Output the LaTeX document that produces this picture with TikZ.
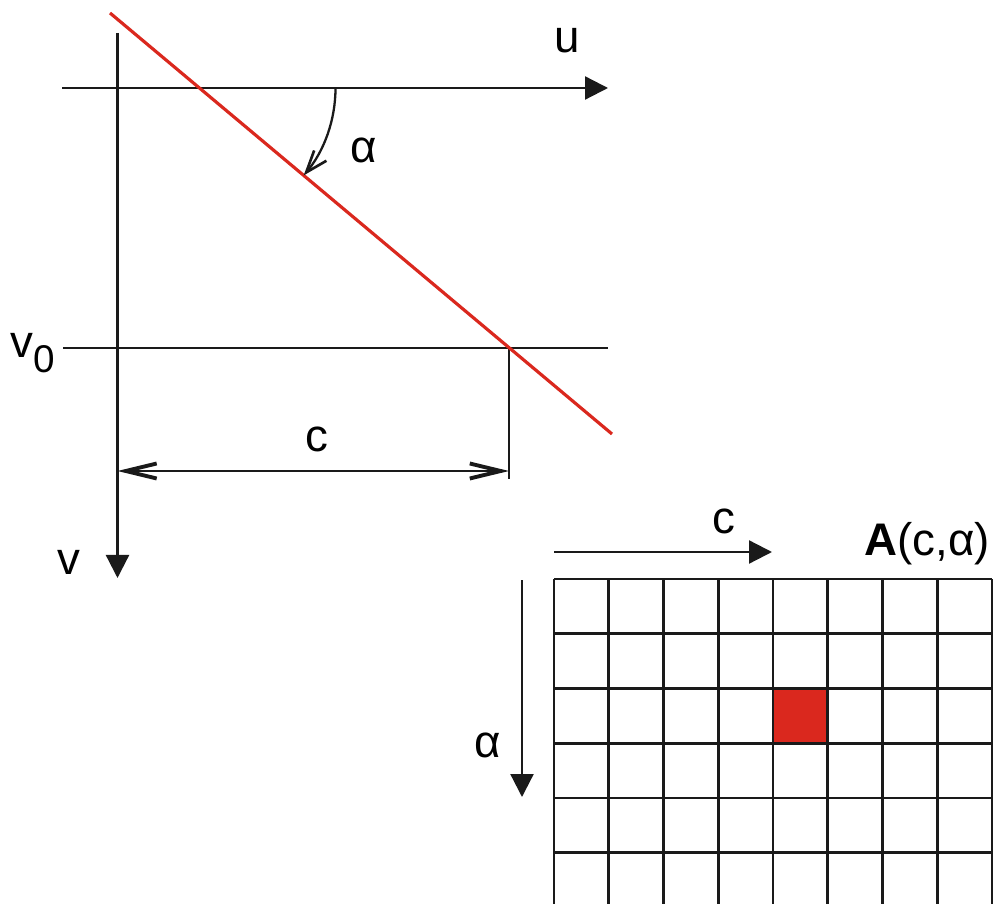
\documentclass[tikz,border=0pt]{standalone}
\usepackage{fontspec}
\setmainfont{Liberation Sans}
\usetikzlibrary{arrows.meta}
\definecolor{rouge}{RGB}{218,40,30}
\definecolor{noir}{RGB}{26,26,26}

\begin{document}
\begin{tikzpicture}[
    axe/.style={
        -{Triangle[length=0.46cm,width=0.46cm]},
        line width=1.3pt,
        draw=noir
    },
    trait/.style={
        line width=1.3pt,
        draw=noir
    },
    droite/.style={
        line width=1.8pt,
        draw=rouge
    },
    cote/.style={
        {Straight Barb[length=0.62cm,width=0.3cm,line width=2.2pt]}-{Straight Barb[length=0.62cm,width=0.3cm,line width=2.2pt]},
        line width=1.3pt,
        draw=noir
    },
    fleche/.style={
        -{Straight Barb[length=0.44cm,width=0.32cm,line width=1.5pt]},
        line width=1.3pt,
        draw=noir
    },
    grille/.style={
        line width=1.45pt,
        draw=noir
    },
    etiquette/.style={
        font=\fontsize{26}{30}\selectfont,
        inner sep=0pt,
        anchor=base
    }
]

% Frame
\clip (0,0) rectangle (19.86,-18.08);

% Axis end points
\coordinate (vhaut) at (2.35,-0.66);
\coordinate (vbas) at (2.35,-11.56);
\coordinate (ugauche) at (1.24,-1.76);
\coordinate (udroite) at (12.16,-1.76);
\coordinate (v0gauche) at (1.26,-6.96);
\coordinate (v0droite) at (12.16,-6.96);

% Red line and its intersections
\coordinate (rdebut) at (2.20,-0.26);
\coordinate (rfin) at (12.24,-8.68);
\coordinate (P) at (3.99,-1.76);
\coordinate (Q) at (10.18,-6.96);
\coordinate (Qbas) at (10.18,-9.58);

% Dimension line ends
\coordinate (cgauche) at (2.35,-9.42);
\coordinate (cdroite) at (10.18,-9.42);

% Axes
\draw[axe] (vhaut) -- (vbas);
\draw[axe] (ugauche) -- (udroite);
\draw[trait] (v0gauche) -- (v0droite);
\draw[trait] (Q) -- (Qbas);
\draw[cote] (cgauche) -- (cdroite);

% Line
\draw[droite] (rdebut) -- (rfin);

% Angle
\draw[fleche] (P) ++(2.72,0) arc[start angle=0, end angle=-40, radius=2.72];

% Labels
\node[etiquette] (u) at (11.34,-1.06) {u};
\node[etiquette] (alpha) at (7.28,-3.26) {α};
\node[etiquette, anchor=base east] (v0) at (1.10,-7.16)
{v\raisebox{-8pt}{\fontsize{22}{26}\selectfont 0}};
\node[etiquette] (v) at (1.38,-11.48) {v};
\node[etiquette] (c) at (6.34,-9.04) {c};

% Accumulator
\coordinate (cagauche) at (11.08,-11.04);
\coordinate (cadroite) at (15.44,-11.04);
\coordinate (aahaut) at (10.44,-11.60);
\coordinate (aabas) at (10.44,-15.94);
\draw[axe] (cagauche) -- (cadroite);
\draw[axe] (aahaut) -- (aabas);
\node[etiquette] (cacc) at (14.48,-10.66) {c};
\node[etiquette] (aacc) at (9.76,-15.14) {α};
\node[etiquette, anchor=base east] (A) at (19.80,-11.10) {\textbf{A}(c,α)};

\fill[rouge] (15.46,-13.77) rectangle (16.555,-14.865);
\foreach \i in {0,...,8}
    \draw[grille] ({11.08+\i*1.095},-11.58) -- ({11.08+\i*1.095},-18.3);
\foreach \j in {0,...,6}
    \draw[grille] (11.08,{-11.58-\j*1.095}) -- (19.84,{-11.58-\j*1.095});

\end{tikzpicture}
\end{document}
